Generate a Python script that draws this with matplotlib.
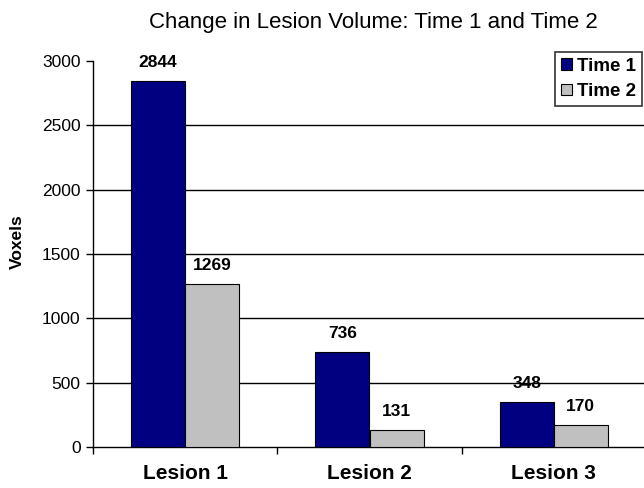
import matplotlib
matplotlib.use("Agg")
import matplotlib.pyplot as plt
import numpy as np

plt.rcParams['font.family'] = ['Liberation Sans', 'DejaVu Sans']

categories = ["Lesion 1", "Lesion 2", "Lesion 3"]
series_names = ["Time 1", "Time 2"]
time1 = [2844, 736, 348]
time2 = [1269, 131, 170]
colors = ["#000080", "#C0C0C0"]
yticks = [0, 500, 1000, 1500, 2000, 2500, 3000]

W, H = 644, 488
fig = plt.figure(figsize=(W / 100, H / 100), dpi=100)
ax = fig.add_axes([93 / W, 1 - 447 / H, 553 / W, 386 / H])

x = np.arange(len(categories))
w = 0.293
b1 = ax.bar(x - w / 2, time1, w, color=colors[0], edgecolor="black", linewidth=0.8,
            label=series_names[0], zorder=3)
b2 = ax.bar(x + w / 2, time2, w, color=colors[1], edgecolor="black", linewidth=0.8,
            label=series_names[1], zorder=3)

for bars, vals in ((b1, time1), (b2, time2)):
    for rect, v in zip(bars, vals):
        ax.annotate(f"{v}", (rect.get_x() + rect.get_width() / 2, v),
                    xytext=(0, 8), textcoords="offset points",
                    ha="center", va="bottom", fontsize=12.5, fontweight="bold")

ax.set_xlim(-0.5, 2.5)
ax.set_ylim(0, 3000)
ax.set_yticks(yticks)
ax.set_yticklabels([str(t) for t in yticks], fontsize=12.5)
ax.set_xticks(x)
ax.set_xticklabels(categories, fontsize=15, fontweight="bold")
ax.tick_params(axis="x", length=0, pad=12)
ax.set_xticks(np.arange(-0.5, 3.0, 1.0), minor=True)
ax.tick_params(axis="x", which="minor", length=5, width=1, direction="out")
ax.tick_params(axis="y", length=5, width=1, direction="out", pad=4)

for t in yticks[1:-1]:
    ax.axhline(t, color="black", linewidth=1, zorder=1)

for s in ("top", "right"):
    ax.spines[s].set_visible(False)
ax.spines["left"].set_linewidth(1)
ax.spines["bottom"].set_linewidth(1)

fig.text(17.5 / W, 1 - 242 / H, "Voxels", rotation=90, ha="center", va="center",
         fontsize=12.5, fontweight="bold")
fig.text(373 / W, 1 - 28 / H, "Change in Lesion Volume: Time 1 and Time 2",
         ha="center", va="baseline", fontsize=16)

leg = ax.legend(loc="upper right", bbox_to_anchor=(642 / W, 1 - 52 / H),
                bbox_transform=fig.transFigure, frameon=True, fancybox=False,
                prop={"weight": "bold", "size": 13.5}, handlelength=0.6,
                handleheight=0.6, handletextpad=0.3, borderpad=0.3,
                labelspacing=0.45, borderaxespad=0)
leg.get_frame().set_edgecolor("black")
leg.get_frame().set_linewidth(1.2)

fig.savefig("out.png", dpi=100)
